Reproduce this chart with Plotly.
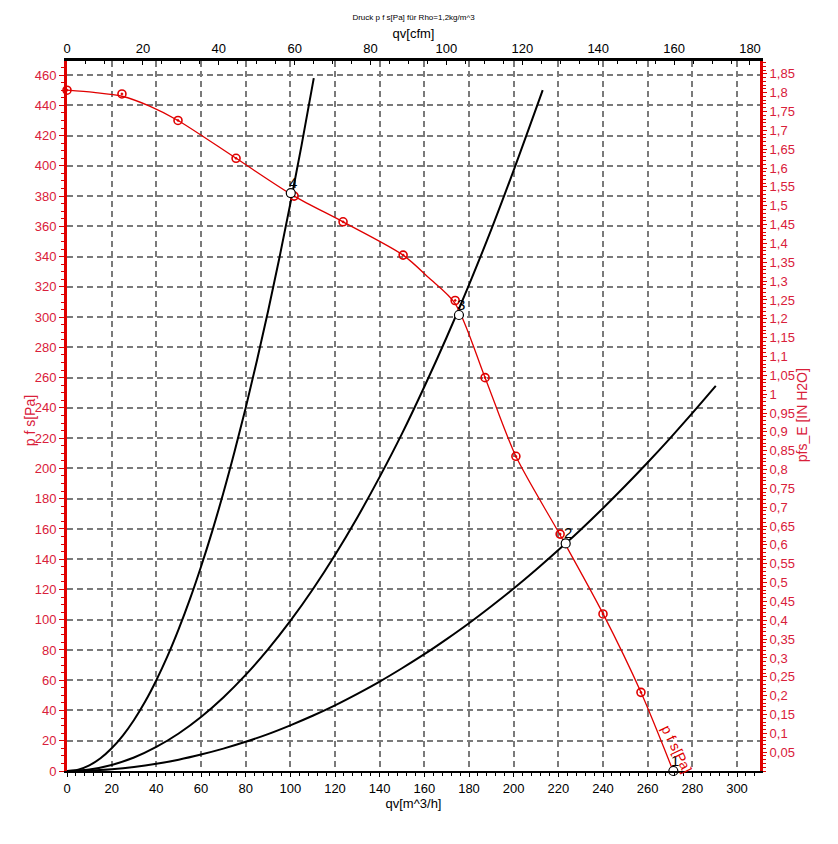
import plotly.graph_objects as go

# fan curve, static pressure p f s [Pa] over qv [m^3/h]
fan_q = [0, 12, 24.6, 37, 49.7, 75.7, 101.7, 123.6, 150.5, 162, 173.8, 187.2, 201, 220.8, 240, 257, 271.4]
fan_p = [450, 448.5, 446, 439.5, 430, 405, 380, 363, 341, 326, 309, 260, 208, 156, 104, 52, 0]

# measured points on the fan curve
meas_q = [0, 24.6, 49.7, 75.7, 101.7, 123.6, 150.5, 173.8, 187.2, 201, 220.8, 240, 257]
meas_p = [450, 447.5, 430, 405, 380, 363, 341, 311, 260, 208, 156.6, 103.8, 52]

# system curves
sysA_q = [0, 5, 10, 15, 20, 25, 30, 35, 40, 45, 50, 55, 60, 65, 70, 75, 80, 85, 90, 95, 100, 105, 110.5]
sysA_p = [0, 0.9, 3.75, 8.4, 15, 23.4, 33.75, 45.9, 60, 75.9, 93.75, 113.4, 135, 158.4, 183.75, 211, 240,
          271, 303.75, 338.4, 375, 413.4, 458]
sysB_q = [0, 10, 20, 30, 40, 50, 60, 70, 80, 90, 100, 110, 120, 130, 140, 150, 160, 170, 180, 190, 200, 213]
sysB_p = [0, 1, 4, 8.9, 15.9, 24.8, 35.7, 48.6, 63.5, 80.4, 99.2, 120, 142.8, 167.6, 194.4, 223, 254,
          286.7, 321.4, 358, 397, 450]
sysC_q = [0, 10, 20, 30, 40, 50, 60, 70, 80, 90, 100, 110, 120, 130, 140, 150, 160, 170, 180, 190,
          200, 210, 223, 230, 240, 250, 260, 270, 280, 290.5]
sysC_p = [0, 0.3, 1.2, 2.7, 4.8, 7.5, 10.9, 14.8, 19.3, 24.4, 30.2, 36.5, 43.4, 51, 59.1, 67.9, 77.2, 87.2,
          97.7, 108.9, 120.6, 133, 150, 159.5, 173.7, 188.5, 203.9, 219.9, 236.5, 254.5]

# operating points
op_q = [271.5, 223.3, 175.5, 100.2]
op_p = [0, 150.4, 301.4, 382]
op_lbl = ["1", "2", "3", "4"]

PA_PER_INH2O = 249.09
M3H_PER_CFM = 1.699
q_max = 310.3
p_max = 469.3

inh2o_vals = [round(0.05 * i, 2) for i in range(1, 38)]
inh2o_text = [("%g" % v).replace(".", ",") for v in inh2o_vals]

RED = "#e00000"
RED_TXT = "#d9203a"
FONT = "Liberation Sans"
GRID = "#7a7a7a"

fig = go.Figure()

for q, p in [(sysA_q, sysA_p), (sysB_q, sysB_p), (sysC_q, sysC_p)]:
    fig.add_trace(go.Scatter(x=q, y=p, mode="lines", line=dict(color="black", width=2, shape="spline", smoothing=1),
                             showlegend=False, hoverinfo="skip"))

fig.add_trace(go.Scatter(x=fan_q, y=fan_p, mode="lines", line=dict(color=RED, width=1.3, shape="spline", smoothing=0.8),
                         showlegend=False))
fig.add_trace(go.Scatter(x=meas_q, y=meas_p, mode="markers",
                         marker=dict(symbol="circle-open-dot", size=8, color=RED, line=dict(width=1.6)),
                         showlegend=False, cliponaxis=False))
fig.add_trace(go.Scatter(x=op_q, y=op_p, mode="markers",
                         marker=dict(symbol="circle", size=9, color="white", line=dict(color="black", width=1.2)),
                         showlegend=False, cliponaxis=False))

# invisible traces to bind the secondary axes
fig.add_trace(go.Scatter(x=[0], y=[0], xaxis="x2", yaxis="y", mode="markers", marker=dict(opacity=0),
                         showlegend=False, hoverinfo="skip"))
fig.add_trace(go.Scatter(x=[0], y=[0], xaxis="x", yaxis="y2", mode="markers", marker=dict(opacity=0),
                         showlegend=False, hoverinfo="skip"))

for q, p, t in zip(op_q, op_p, op_lbl):
    fig.add_annotation(x=q, y=p, text=t, showarrow=False, xshift=2, yshift=11,
                       font=dict(size=15, color="black", family=FONT))

fig.add_annotation(x=273, y=14.5, text="p f s[Pa]", showarrow=False, textangle=64,
                   font=dict(size=14, color=RED, family=FONT))

# axis titles for the two pressure scales
fig.add_annotation(x=-0.0534, y=0.494, xref="paper", yref="paper", text="p f s[Pa]", showarrow=False,
                   xanchor="center", yanchor="middle",
                   textangle=-90, font=dict(size=14, color=RED_TXT, family=FONT))
fig.add_annotation(x=1.0606, y=0.501, xref="paper", yref="paper", text="pfs_E [IN H2O]", showarrow=False,
                   xanchor="center", yanchor="middle",
                   textangle=-90, font=dict(size=14, color=RED_TXT, family=FONT))

# page body has an 8px margin, so the figure is shrunk by that much
fig.update_layout(
    width=830, height=836,
    margin=dict(l=59, r=78, t=53, b=73),
    plot_bgcolor="white", paper_bgcolor="white",
    font=dict(family=FONT, size=13),
    title=dict(text="Druck p f s[Pa] für Rho=1,2kg/m^3", font=dict(size=8, color="black"),
               x=0.5, xref="paper", y=1 - 9 / 836, yref="container", yanchor="middle"),
    xaxis=dict(range=[0, q_max], dtick=20, tick0=0, showgrid=True, gridcolor=GRID, gridwidth=1.5,
               griddash="6px,4px", zeroline=False, showline=True, linecolor="black", linewidth=2,
               ticks="outside", ticklen=4, tickcolor="black", tickfont=dict(color="black", size=13),
               minor=dict(dtick=4, tick0=0, ticks="outside", ticklen=3, tickcolor="black", showgrid=False),
               automargin=False,
               title=dict(text="qv[m^3/h]", font=dict(color="black", size=13), standoff=1)),
    xaxis2=dict(range=[0, q_max / M3H_PER_CFM], overlaying="x", side="top", dtick=20, tick0=0,
                showgrid=False, zeroline=False, showline=True, linecolor="black", linewidth=3,
                ticks="inside", ticklen=4, tickcolor="black", tickfont=dict(color="black", size=13),
                minor=dict(dtick=5, tick0=0, ticks="inside", ticklen=3, tickcolor="black"),
                automargin=False,
                title=dict(text="qv[cfm]", font=dict(color="black", size=13), standoff=0)),
    yaxis=dict(range=[0, p_max], dtick=20, tick0=0, showgrid=True, gridcolor=GRID, gridwidth=1.5,
               griddash="6px,4px", zeroline=False, showline=True, linecolor=RED, linewidth=3,
               ticks="outside", ticklen=5, tickcolor=RED, tickfont=dict(color=RED_TXT, size=13),
               minor=dict(dtick=5, tick0=0, ticks="outside", ticklen=3, tickcolor=RED, showgrid=False),
               automargin=False),
    yaxis2=dict(range=[0, p_max / PA_PER_INH2O], overlaying="y", side="right", tickmode="array",
                tickvals=inh2o_vals, ticktext=inh2o_text, showgrid=False, zeroline=False,
                showline=True, linecolor=RED, linewidth=3, ticks="outside", ticklen=4, tickcolor=RED,
                tickfont=dict(color=RED_TXT, size=13),
                minor=dict(dtick=0.01, tick0=0, ticks="outside", ticklen=3, tickcolor=RED),
                automargin=False),
)

fig.write_html("out.html")
